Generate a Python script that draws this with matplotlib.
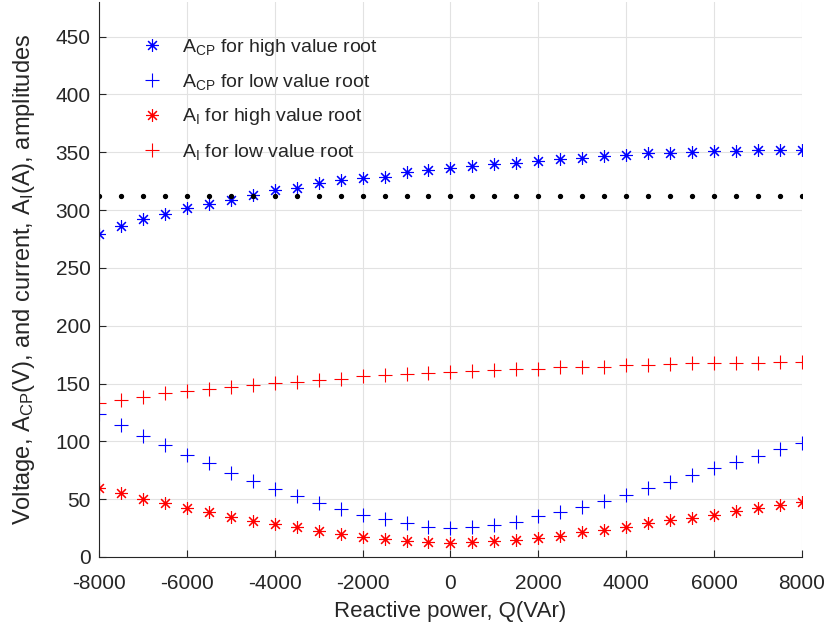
import matplotlib
matplotlib.use('Agg')
import matplotlib.pyplot as plt
import numpy as np

plt.rcParams['font.family'] = ['Liberation Sans', 'DejaVu Sans']
plt.rcParams['mathtext.fontset'] = 'custom'
plt.rcParams['mathtext.rm'] = 'Liberation Sans'
plt.rcParams['mathtext.it'] = 'Liberation Sans'
plt.rcParams['axes.unicode_minus'] = False

# reactive power sweep
Q = [-8000, -7500, -7000, -6500, -6000, -5500, -5000, -4500, -4000, -3500, -3000,
     -2500, -2000, -1500, -1000, -500, 0, 500, 1000, 1500, 2000, 2500, 3000,
     3500, 4000, 4500, 5000, 5500, 6000, 6500, 7000, 7500, 8000]

# A_CP amplitude, high and low roots
acp_high = [279, 286, 292, 297, 302, 305, 309, 313, 317, 319, 323, 326, 328, 329,
            333, 334.5, 336.5, 338, 340, 341, 342.5, 344, 345, 346.5, 347.5, 349,
            349.5, 350.5, 351, 351.5, 352, 352, 352]
acp_low = [124, 114, 105, 97, 88, 81, 73, 66, 59, 53, 47, 41.5, 36, 32.5, 29,
           25.6, 24.8, 25.6, 27.9, 30.5, 35.1, 39.1, 43.5, 48.7, 53.8, 59.3, 65,
           70.8, 76.6, 81.8, 87.5, 93.3, 98.5]

# A_I amplitude, high and low roots
ai_high = [59.3, 55, 50, 46.6, 42.3, 38.6, 34.8, 31.4, 28.5, 25.6, 22.2, 19.9,
           17, 15.5, 14.1, 12.7, 11.8, 12.7, 14.1, 14.7, 16.1, 18.4, 21.9, 23.3,
           26.2, 29.1, 32, 33.7, 36.6, 39.4, 42, 44.9, 47.2]
ai_low = [133, 135.9, 138.5, 141.7, 143.7, 145.1, 147.1, 148.8, 150.8, 151.7,
          153.2, 154.3, 156.6, 157.2, 158.6, 159.5, 160.4, 161, 161.8, 163, 163,
          164, 164.7, 164.7, 165.8, 166.4, 167.3, 167.6, 167.6, 168, 168.1,
          168.7, 168.7]

# reference level
ref_level = 312

fig = plt.figure(figsize=(8.27, 6.33), dpi=100)
ax = fig.add_axes([0.1197, 0.1201, 0.850, 0.8768])

asterisk = (8, 2, 0)
ax.plot(Q, acp_high, linestyle='none', marker=asterisk, color='blue', ms=9, mew=0.8,
        label=r'A$_{\mathrm{CP}}$ for high value root')
ax.plot(Q, acp_low, linestyle='none', marker='+', color='blue', ms=9.5, mew=0.8,
        label=r'A$_{\mathrm{CP}}$ for low value root')
ax.plot(Q, ai_high, linestyle='none', marker=asterisk, color='red', ms=9, mew=0.8,
        label=r'A$_{\mathrm{I}}$ for high value root')
ax.plot(Q, ai_low, linestyle='none', marker='+', color='red', ms=9.5, mew=0.8,
        label=r'A$_{\mathrm{I}}$ for low value root')
ax.plot(Q, [ref_level] * len(Q), linestyle='none', marker='o', color='black', ms=2.8)

ax.set_xlim(-8000, 8000)
ax.set_ylim(0, 480)
ax.set_xticks(np.arange(-8000, 8001, 2000))
ax.set_yticks(np.arange(0, 451, 50))

ax.grid(True, color='#e2e2e2', linewidth=0.8)
ax.set_axisbelow(True)
for side in ['top', 'right']:
    ax.spines[side].set_visible(False)
for side in ['left', 'bottom']:
    ax.spines[side].set_color('#262626')
    ax.spines[side].set_linewidth(0.8)
ax.tick_params(direction='in', length=5, width=0.8, colors='#262626',
               labelsize=15, pad=6)
ax.tick_params(axis='x', pad=12)

ax.set_xlabel('Reactive power, Q(VAr)', fontsize=16, color='#262626', labelpad=6)
ax.set_ylabel(r'Voltage, A$_{\mathrm{CP}}$(V), and current, A$_{\mathrm{I}}$(A), amplitudes',
              fontsize=17, color='#262626', labelpad=13)

ax.legend(loc='upper left', bbox_to_anchor=(0.03, 0.969), frameon=False, fontsize=14,
          labelspacing=0.74, handletextpad=0.8, handlelength=1.5, labelcolor='#262626')

fig.savefig('out.png', dpi=100)
